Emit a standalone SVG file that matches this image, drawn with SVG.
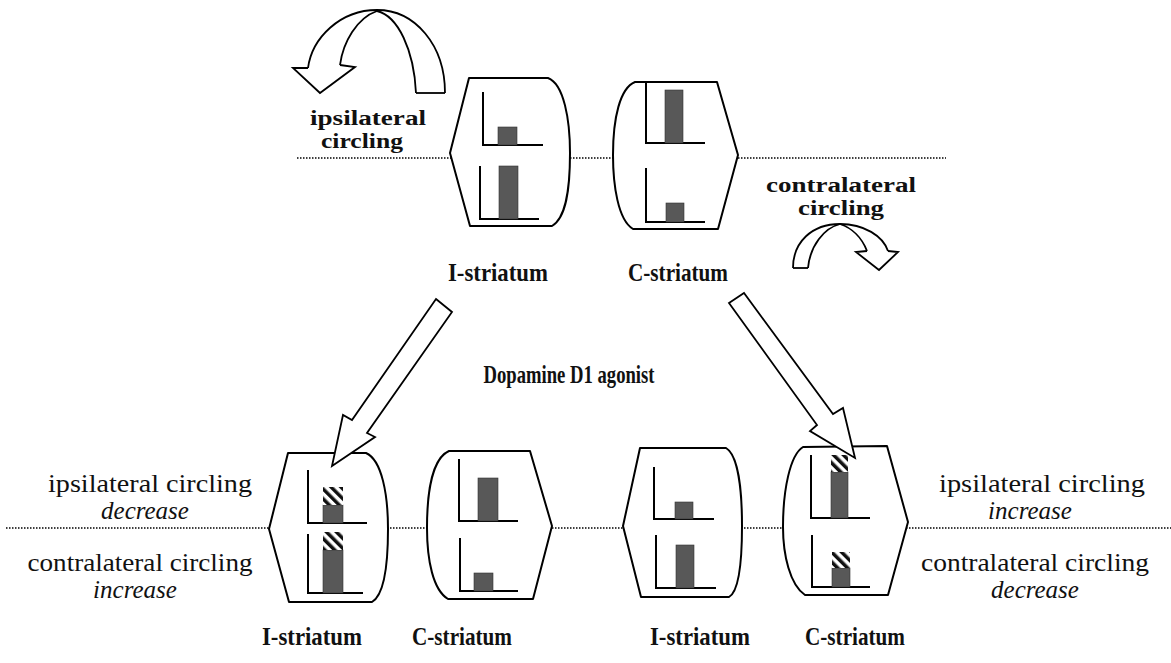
<svg xmlns="http://www.w3.org/2000/svg" width="1171" height="663" viewBox="0 0 1171 663">
<defs>
<pattern id="hatch" patternUnits="userSpaceOnUse" width="7" height="7" patternTransform="rotate(-45)">
<rect x="0" y="0" width="7" height="7" fill="#fff"/>
<rect x="0" y="0" width="3.5" height="7" fill="#111"/>
</pattern>
</defs>
<style>
.box{fill:#fff;stroke:#000;stroke-width:2;stroke-linejoin:round}
.ax{fill:none;stroke:#000;stroke-width:2}
.bar{fill:#585858;stroke:#333;stroke-width:0.6}
.hb{fill:url(#hatch)}
.dot{stroke:#000;stroke-width:1.3;stroke-dasharray:1.5 1.5;fill:none}
.arr{fill:#fff;stroke:#000;stroke-width:1.8;stroke-linejoin:miter}
.cur{fill:none;stroke:#000;stroke-width:1.8}
.bt{font-family:"Liberation Serif",serif;font-weight:bold;font-size:25px;text-anchor:middle;fill:#111}
.bs{font-family:"Liberation Serif",serif;font-weight:bold;font-size:20.5px;text-anchor:middle;fill:#111}
.rt{font-family:"Liberation Serif",serif;font-size:25px;text-anchor:middle;fill:#111}
.it{font-family:"Liberation Serif",serif;font-style:italic;font-size:25px;text-anchor:middle;fill:#111}
</style>

<g id="dividers">
<line class="dot" x1="297" y1="158" x2="946" y2="158"/>
<line class="dot" x1="6" y1="528" x2="1171" y2="528"/>
</g>

<g id="top-I-striatum">
<path class="box" d="M469,78 L548,78 C564,84 570,120 570,153 C570,190 566,218 552,226 L470,226 L450,153 Z"/>
<path class="ax" d="M483,92 L483,145 L543,145"/>
<rect class="bar" x="498" y="127" width="19" height="18"/>
<path class="ax" d="M480,166 L480,219 L539,219"/>
<rect class="bar" x="499" y="166" width="19" height="53"/>
<text class="bt" x="498" y="281" textLength="100" lengthAdjust="spacingAndGlyphs">I-striatum</text>
</g>

<g id="top-C-striatum">
<path class="box" d="M717,82 L738,155 L718,229 L633,229 C618,220 613,185 613,155 C613,118 620,88 635,82 Z"/>
<path class="ax" d="M646,82 L646,143 L705,143"/>
<rect class="bar" x="665" y="90" width="18" height="53"/>
<path class="ax" d="M646,168 L646,222 L705,222"/>
<rect class="bar" x="666" y="203" width="18" height="19"/>
<text class="bt" x="678" y="281" textLength="100" lengthAdjust="spacingAndGlyphs">C-striatum</text>
</g>

<g id="ipsilateral-arrow">
<path class="cur" d="M445,93 C445,45 415,10 377,10"/>
<path class="cur" d="M416,93 C414,50 398,16 377,11"/>
<path class="cur" d="M377,10 C340,10 312,38 308,68"/>
<path class="cur" d="M377,11 C357,18 343,42 340,65"/>
<path class="cur" d="M416,93 L445,93"/>
<path class="cur" d="M308,68 L293,68 L320,93 L355,67 L340,65"/>
<text class="bs" x="368" y="125" textLength="116" lengthAdjust="spacingAndGlyphs">ipsilateral</text>
<text class="bs" x="362" y="148" textLength="82" lengthAdjust="spacingAndGlyphs">circling</text>
</g>

<g id="contralateral-arrow">
<text class="bs" x="841" y="192" textLength="150" lengthAdjust="spacingAndGlyphs">contralateral</text>
<text class="bs" x="841" y="215" textLength="86" lengthAdjust="spacingAndGlyphs">circling</text>
<path class="cur" d="M793,268 C793,242 812,224 840,224"/>
<path class="cur" d="M808,268 C810,246 824,228 840,224"/>
<path class="cur" d="M840,224 C864,224 883,236 888,251"/>
<path class="cur" d="M840,224 C852,228 862,238 867,251"/>
<path class="cur" d="M793,268 L808,268"/>
<path class="cur" d="M867,251 L856,252 L879,270 L898,252 L888,251"/>
</g>

<g id="agonist-label">
<text class="bt" x="569" y="383" textLength="171" lengthAdjust="spacingAndGlyphs">Dopamine D1 agonist</text>
</g>

<g id="bottom-I-striatum-1">
<path class="box" d="M288,453 L366,453 C382,460 388,495 388,529 C388,565 384,595 372,602 L289,602 L269,529 Z"/>
<path class="ax" d="M308,470 L308,523 L367,523"/>
<rect class="bar" x="323" y="505" width="20" height="18"/>
<rect class="hb" x="323" y="487" width="20" height="18"/>
<path class="ax" d="M308,534 L308,593 L363,593"/>
<rect class="bar" x="323" y="550" width="20" height="43"/>
<rect class="hb" x="323" y="532" width="20" height="18"/>
<text class="bt" x="312" y="645" textLength="100" lengthAdjust="spacingAndGlyphs">I-striatum</text>
</g>

<g id="bottom-C-striatum-1">
<path class="box" d="M530,451 L552,526 L533,599 L448,599 C433,590 427,560 427,528 C427,490 433,458 449,451 Z"/>
<path class="ax" d="M459,459 L459,521 L518,521"/>
<rect class="bar" x="478" y="478" width="20" height="43"/>
<path class="ax" d="M460,538 L460,591 L518,591"/>
<rect class="bar" x="474" y="573" width="19" height="18"/>
<text class="bt" x="462" y="645" textLength="100" lengthAdjust="spacingAndGlyphs">C-striatum</text>
</g>

<g id="bottom-I-striatum-2">
<path class="box" d="M640,448 L726,448 C738,455 742,490 742,526 C742,565 738,592 729,597 L641,597 L623,526 Z"/>
<path class="ax" d="M654,467 L654,519 L714,519"/>
<rect class="bar" x="675" y="502" width="18" height="17"/>
<path class="ax" d="M656,535 L656,588 L716,588"/>
<rect class="bar" x="676" y="545" width="18" height="43"/>
<text class="bt" x="700" y="645" textLength="100" lengthAdjust="spacingAndGlyphs">I-striatum</text>
</g>

<g id="bottom-C-striatum-2">
<path class="box" d="M887,446 L908,522 L888,595 L805,595 C790,585 783,555 783,527 C783,490 790,455 803,447 Z"/>
<path class="ax" d="M811,455 L811,518 L870,518"/>
<rect class="bar" x="831" y="472" width="17" height="46"/>
<rect class="hb" x="831" y="455" width="17" height="17"/>
<path class="ax" d="M812,535 L812,587 L870,587"/>
<rect class="bar" x="832" y="568" width="18" height="19"/>
<rect class="hb" x="832" y="552" width="18" height="16"/>
<text class="bt" x="855" y="645" textLength="100" lengthAdjust="spacingAndGlyphs">C-striatum</text>
</g>

<g id="connectors">
<polygon class="arr" points="436,299 452,312 367,433 375,437 332,466 343,415 352,420"/>
<polygon class="arr" points="729,303 744,293 833,414 843,408 855,458 810,431 817,425"/>
</g>

<g id="left-labels">
<text class="rt" x="150" y="492" textLength="204" lengthAdjust="spacingAndGlyphs">ipsilateral circling</text>
<text class="it" x="145" y="519">decrease</text>
<text class="rt" x="140" y="571" textLength="225" lengthAdjust="spacingAndGlyphs">contralateral circling</text>
<text class="it" x="135" y="598">increase</text>
</g>

<g id="right-labels">
<text class="rt" x="1042" y="492" textLength="206" lengthAdjust="spacingAndGlyphs">ipsilateral circling</text>
<text class="it" x="1030" y="519">increase</text>
<text class="rt" x="1035" y="571" textLength="228" lengthAdjust="spacingAndGlyphs">contralateral circling</text>
<text class="it" x="1035" y="598">decrease</text>
</g>
</svg>
